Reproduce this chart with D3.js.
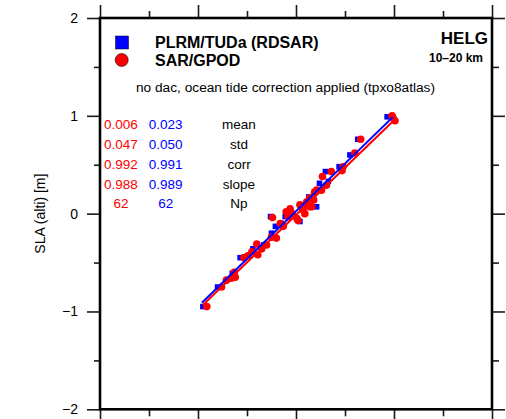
<!DOCTYPE html>
<html>
<head>
<meta charset="utf-8">
<script src="https://cdn.jsdelivr.net/npm/d3@7"></script>
<style>
  body { margin: 0; background: #fff; }
  svg text { font-family: "Liberation Sans", Arial, Helvetica, sans-serif; }
</style>
</head>
<body>
<svg id="chart" width="506" height="419"></svg>
<script>
// blue squares: PLRM/TUDa (RDSAR), [x, y]
var bluePts = [
  [-0.95, -0.95], [-0.80, -0.75], [-0.65, -0.61], [-0.57, -0.45], [-0.44, -0.36],
  [-0.33, -0.32], [-0.26, -0.03], [-0.25, -0.20], [-0.21, -0.13], [-0.15, -0.10],
  [-0.11, -0.03], [-0.03, 0.00], [0.04, -0.08], [0.07, 0.09], [0.13, 0.17],
  [0.18, 0.14], [0.21, 0.07], [0.24, 0.31], [0.30, 0.43], [0.33, 0.33],
  [0.44, 0.48], [0.55, 0.60], [0.63, 0.76], [0.93, 0.99]
];
// red circles: SAR/GPOD, [x, y]
var redPts = [
  [-0.91, -0.95], [-0.76, -0.75], [-0.71, -0.68], [-0.66, -0.66], [-0.62, -0.65],
  [-0.63, -0.60], [-0.53, -0.45], [-0.49, -0.43], [-0.45, -0.39], [-0.40, -0.31],
  [-0.39, -0.42], [-0.35, -0.36], [-0.30, -0.32], [-0.25, -0.24], [-0.24, -0.04],
  [-0.20, -0.25], [-0.16, -0.10], [-0.13, -0.13], [-0.10, 0.02], [-0.08, -0.03],
  [-0.06, 0.05], [-0.04, 0.00], [0.01, -0.05], [0.02, -0.07], [0.04, 0.09],
  [0.07, 0.04], [0.09, 0.00], [0.11, 0.12], [0.14, 0.16], [0.14, 0.07],
  [0.16, 0.07], [0.18, 0.14], [0.19, 0.22], [0.21, 0.24], [0.26, 0.24],
  [0.27, 0.38], [0.31, 0.29], [0.36, 0.43], [0.47, 0.44], [0.48, 0.48],
  [0.60, 0.62], [0.66, 0.76], [0.98, 1.00], [0.99, 0.98], [1.01, 0.95]
];
// fit lines [x0, x1, intercept, slope]
var blueFit = [-0.96, 0.99, 0.025, 0.974];
var redFit = [-0.95, 1.00, -0.014, 0.969];

var statNames = ["mean", "std", "corr", "slope", "Np"];
var statRed = ["0.006", "0.047", "0.992", "0.988", "62"];
var statBlue = ["0.023", "0.050", "0.991", "0.989", "62"];

var majorTicks = [-2, -1, 0, 1, 2];
var minorTicks = [-1.5, -0.5, 0.5, 1.5];

var svg = d3.select("#chart");
var L = 100, R = 492, T = 18, B = 409.3;

var x = d3.scaleLinear().domain([-2, 2]).range([L, R]);
var y = d3.scaleLinear().domain([-2, 2]).range([B, T]);

var fmt = function(d) { return d < 0 ? "\u2212" + Math.abs(d) : String(d); };

function addAxis(gen, tx, ty, vals, size, labels) {
  var g = svg.append("g")
    .attr("transform", "translate(" + tx + "," + ty + ")")
    .call(gen.tickValues(vals).tickSize(size).tickPadding(9)
      .tickFormat(labels ? fmt : ""));
  g.select(".domain").remove();
  g.selectAll(".tick line").attr("stroke", "#1a1a1a").attr("stroke-width", 1.6);
  g.selectAll(".tick text").attr("fill", "#000").style("font-size", "14px");
}

addAxis(d3.axisLeft(y), L, 0, majorTicks, 13, true);
addAxis(d3.axisLeft(y), L, 0, minorTicks, 6, false);
addAxis(d3.axisRight(y), R, 0, majorTicks, 13, false);
addAxis(d3.axisRight(y), R, 0, minorTicks, 7, false);
addAxis(d3.axisTop(x), 0, T, majorTicks, 13, false);
addAxis(d3.axisTop(x), 0, T, minorTicks, 7, false);
addAxis(d3.axisBottom(x), 0, B, majorTicks, 13, false);
addAxis(d3.axisBottom(x), 0, B, minorTicks, 7, false);

// points
svg.append("g").selectAll("rect")
  .data(bluePts).enter().append("rect")
  .attr("x", d => x(d[0]) - 2.8)
  .attr("y", d => y(d[1]) - 2.8)
  .attr("width", 5.6).attr("height", 5.6)
  .attr("fill", "#0000ff");

svg.append("g").selectAll("circle")
  .data(redPts).enter().append("circle")
  .attr("cx", d => x(d[0]))
  .attr("cy", d => y(d[1]))
  .attr("r", 3.8)
  .attr("fill", "#ff0000");

// regression lines
[[blueFit, "#0000ff"], [redFit, "#ff0000"]].forEach(function(f) {
  var p = f[0];
  svg.append("line")
    .attr("x1", x(p[0])).attr("y1", y(p[2] + p[3] * p[0]))
    .attr("x2", x(p[1])).attr("y2", y(p[2] + p[3] * p[1]))
    .attr("stroke", f[1]).attr("stroke-width", 2);
});

// frame
svg.append("rect")
  .attr("x", L).attr("y", T).attr("width", R - L).attr("height", B - T)
  .attr("fill", "none").attr("stroke", "#000").attr("stroke-width", 2.6);

// legend
svg.append("rect").attr("x", 115.5).attr("y", 36).attr("width", 13).attr("height", 13)
  .attr("fill", "#0000ff").attr("stroke", "#000").attr("stroke-width", 0.5);
svg.append("circle").attr("cx", 121.7).attr("cy", 60).attr("r", 6.5)
  .attr("fill", "#ff0000").attr("stroke", "#000").attr("stroke-width", 0.6);
svg.append("text").attr("x", 155).attr("y", 48.3).text("PLRM/TUDa (RDSAR)")
  .style("font-size", "16px").style("font-weight", "bold");
svg.append("text").attr("x", 155).attr("y", 65.7).text("SAR/GPOD")
  .style("font-size", "16px").style("font-weight", "bold");

svg.append("text").attr("x", 488).attr("y", 44).attr("text-anchor", "end")
  .text("HELG").style("font-size", "17px").style("font-weight", "bold");
svg.append("text").attr("x", 483).attr("y", 61.7).attr("text-anchor", "end")
  .text("10\u201320 km").style("font-size", "12px").style("font-weight", "bold");

svg.append("text").attr("x", 285.5).attr("y", 91.7).attr("text-anchor", "middle")
  .text("no dac, ocean tide correction applied (tpxo8atlas)").style("font-size", "13.7px");

// stats table
var rowY = d3.scaleLinear().domain([0, 4]).range([129.3, 208.3]);
var cols = [[statRed, 121, "#ff0000"], [statBlue, 165.7, "#0000ff"], [statNames, 239, "#000"]];
cols.forEach(function(c) {
  svg.append("g").selectAll("text")
    .data(c[0]).enter().append("text")
    .attr("x", c[1]).attr("y", (d, i) => rowY(i))
    .attr("text-anchor", "middle")
    .attr("fill", c[2])
    .style("font-size", "13.5px")
    .text(d => d);
});

// y label
svg.append("text")
  .attr("transform", "translate(45," + y(0) + ") rotate(-90)")
  .attr("text-anchor", "middle")
  .style("font-size", "14px")
  .text("SLA (alti) [m]");
</script>
</body>
</html>
